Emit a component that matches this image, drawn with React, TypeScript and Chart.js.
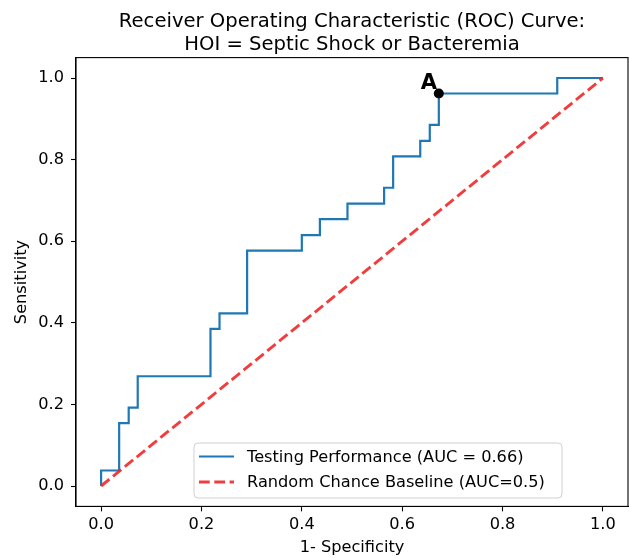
import React, { useEffect, useRef } from "react";
import { Chart, registerables } from "chart.js";

Chart.register(...registerables);

const fprValues = [0, 0, 0.036, 0.036, 0.055, 0.055, 0.073, 0.073, 0.218, 0.218, 0.236, 0.236, 0.291, 0.291, 0.4, 0.4, 0.436, 0.436, 0.491, 0.491, 0.564, 0.564, 0.582, 0.582, 0.636, 0.636, 0.655, 0.655, 0.673, 0.673, 0.909, 0.909, 1.0];
const tprValues = [0, 0.038, 0.038, 0.154, 0.154, 0.192, 0.192, 0.269, 0.269, 0.385, 0.385, 0.423, 0.423, 0.577, 0.577, 0.615, 0.615, 0.654, 0.654, 0.692, 0.692, 0.731, 0.731, 0.808, 0.808, 0.846, 0.846, 0.885, 0.885, 0.962, 0.962, 1.0, 1.0];
const baselineX = [0, 1];
const baselineY = [0, 1];
const pointAX = [0.673];
const pointAY = [0.962];
const pointALabels = ["A"];
const xTicks = [0, 0.2, 0.4, 0.6, 0.8, 1.0];
const yTicks = [0, 0.2, 0.4, 0.6, 0.8, 1.0];
const titleLines = ["Receiver Operating Characteristic (ROC) Curve:", "HOI = Septic Shock or Bacteremia"];
const xLabel = "1- Specificity";
const yLabel = "Sensitivity";
const seriesLabels = ["Testing Performance (AUC = 0.66)", "Random Chance Baseline (AUC=0.5)"];

const FAMILY = "'DejaVu Sans', sans-serif";
const BLUE = "#1f77b4";
const RED = "rgba(240, 40, 40, 0.9)";
const FONT_SIZE = 16.2;

const decorPlugin = {
  id: "decor",
  afterDraw(chart: any) {
    const ctx = chart.ctx;
    const a = chart.chartArea;
    ctx.save();
    // frame
    ctx.strokeStyle = "#000";
    ctx.lineWidth = 1.1;
    ctx.strokeRect(a.left, a.top, a.right - a.left, a.bottom - a.top);
    // title
    ctx.fillStyle = "#000";
    ctx.font = `19.6px ${FAMILY}`;
    ctx.textAlign = "center";
    ctx.textBaseline = "alphabetic";
    const cx = (a.left + a.right) / 2;
    ctx.fillText(titleLines[0], cx, 27);
    ctx.fillText(titleLines[1], cx, 49.5);
    // point label
    const xs = chart.scales.x;
    const ys = chart.scales.y;
    ctx.font = `bold 21px ${FAMILY}`;
    ctx.textAlign = "center";
    for (let i = 0; i < pointAX.length; i++) {
      const px = xs.getPixelForValue(pointAX[i]);
      const py = ys.getPixelForValue(pointAY[i]);
      ctx.fillText(pointALabels[i], px - 10, py - 5);
    }
    // legend
    const bx = 194, by = 443, bw = 368, bh = 55, r = 4;
    ctx.beginPath();
    ctx.moveTo(bx + r, by);
    ctx.arcTo(bx + bw, by, bx + bw, by + bh, r);
    ctx.arcTo(bx + bw, by + bh, bx, by + bh, r);
    ctx.arcTo(bx, by + bh, bx, by, r);
    ctx.arcTo(bx, by, bx + bw, by, r);
    ctx.closePath();
    ctx.fillStyle = "rgba(255,255,255,0.8)";
    ctx.fill();
    ctx.strokeStyle = "#d0d0d0";
    ctx.lineWidth = 1;
    ctx.stroke();
    const ds = chart.data.datasets;
    for (let i = 0; i < 2; i++) {
      const y = by + 13.5 + i * 25.5;
      ctx.beginPath();
      ctx.setLineDash(ds[i].borderDash || []);
      ctx.strokeStyle = ds[i].borderColor;
      ctx.lineWidth = ds[i].borderWidth;
      ctx.moveTo(bx + 5, y);
      ctx.lineTo(bx + 40, y);
      ctx.stroke();
      ctx.setLineDash([]);
      ctx.fillStyle = "#000";
      ctx.font = `${FONT_SIZE}px ${FAMILY}`;
      ctx.textAlign = "left";
      ctx.textBaseline = "middle";
      ctx.fillText(ds[i].label, bx + 53, y + 1);
    }
    ctx.restore();
  },
};

export default function App() {
  const ref = useRef<HTMLCanvasElement | null>(null);
  useEffect(() => {
    if (!ref.current) return;
    const tickFont = { family: FAMILY, size: FONT_SIZE };
    const chart = new Chart(ref.current, {
      type: "scatter",
      data: {
        datasets: [
          {
            label: seriesLabels[0],
            data: fprValues.map((x, i) => ({ x, y: tprValues[i] })),
            showLine: true,
            borderColor: BLUE,
            backgroundColor: BLUE,
            borderWidth: 2.2,
            pointRadius: 0,
            order: 2,
          },
          {
            label: seriesLabels[1],
            data: baselineX.map((x, i) => ({ x, y: baselineY[i] })),
            showLine: true,
            borderColor: RED,
            backgroundColor: RED,
            borderWidth: 2.9,
            borderDash: [10.7, 4.6],
            pointRadius: 0,
            order: 1,
          },
          {
            label: "A",
            data: pointAX.map((x, i) => ({ x, y: pointAY[i] })),
            pointRadius: 5,
            pointBackgroundColor: "#000",
            pointBorderColor: "#000",
            pointBorderWidth: 0,
            order: 0,
          },
        ],
      } as any,
      options: {
        animation: false,
        responsive: false,
        maintainAspectRatio: false,
        devicePixelRatio: 1,
        layout: { autoPadding: false, padding: { top: 57.6, right: 1, bottom: 0, left: 0 } },
        plugins: { legend: { display: false }, tooltip: { enabled: false }, title: { display: false } },
        scales: {
          x: {
            type: "linear",
            min: -0.05,
            max: 1.05,
            afterBuildTicks: (s: any) => {
              s.ticks = xTicks.map((v) => ({ value: v }));
            },
            afterFit: (s: any) => {
              s.height = 51.6;
              s.paddingLeft = 0;
              s.paddingRight = 0;
            },
            ticks: { callback: (v: any) => Number(v).toFixed(1), font: tickFont, color: "#000", padding: 4, maxRotation: 0, autoSkip: false },
            grid: { display: true, drawOnChartArea: false, drawTicks: true, tickLength: 5, tickColor: "#000", tickWidth: 1.1 },
            border: { display: true, color: "#000", width: 1.1 },
            title: { display: true, text: xLabel, font: tickFont, color: "#000", padding: { top: 0, bottom: 0 } },
          },
          y: {
            type: "linear",
            min: -0.05,
            max: 1.05,
            afterBuildTicks: (s: any) => {
              s.ticks = yTicks.map((v) => ({ value: v }));
            },
            afterFit: (s: any) => {
              s.width = 76;
              s.paddingTop = 0;
              s.paddingBottom = 0;
            },
            ticks: { callback: (v: any) => Number(v).toFixed(1), font: tickFont, color: "#000", padding: 7, autoSkip: false },
            grid: { display: true, drawOnChartArea: false, drawTicks: true, tickLength: 5, tickColor: "#000", tickWidth: 1.1 },
            border: { display: true, color: "#000", width: 1.1 },
            title: { display: true, text: yLabel, font: tickFont, color: "#000", padding: { top: 12, bottom: 0 } },
          },
        },
      } as any,
      plugins: [decorPlugin],
    });
    return () => chart.destroy();
  }, []);
  return (
    <div style={{ position: "absolute", left: 0, top: 0, width: 629, height: 558, background: "#fff" }}>
      <canvas ref={ref} width={629} height={558} />
    </div>
  );
}
